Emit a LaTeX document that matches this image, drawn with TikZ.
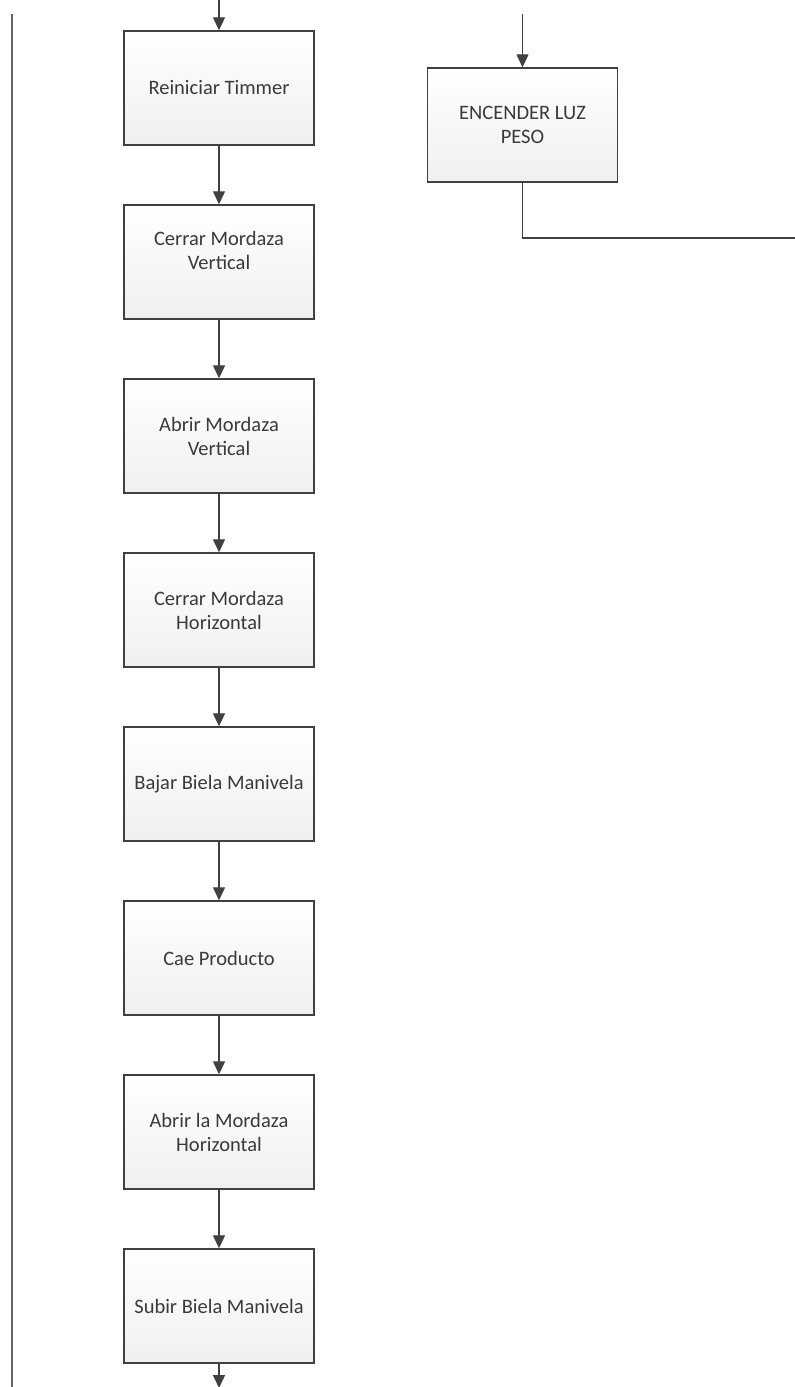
\documentclass[tikz,border=0pt]{standalone}
\usepackage{fontspec}
\setmainfont{Carlito}
\usetikzlibrary{arrows.meta}
\definecolor{edgec}{HTML}{404040}
\definecolor{txtc}{HTML}{3A3A3A}
\definecolor{lanec}{HTML}{666666}
\begin{document}
\begin{tikzpicture}[x=1pt,y=-1pt,
  txt/.style={text=txtc, align=center, font=\fontsize{20.5}{24}\selectfont},
  proc/.style={txt, draw=edgec, line width=1.4pt, top color=white, bottom color=black!6,
    minimum width=190pt, minimum height=114pt, inner sep=0pt},
  flow/.style={draw=edgec, line width=1.3pt, -{Triangle[length=13pt,width=12pt]}},
  plain/.style={draw=edgec, line width=1.3pt},
  lane/.style={draw=lanec, line width=2pt}]
\useasboundingbox[fill=white] (0,0) rectangle (795,1387);

\coordinate (lt) at (12,14);
\coordinate (lb) at (12,1387);
\draw[lane] (lt) -- (lb);

\node[proc] (b1) at (219,88) {Reiniciar Timmer};
\node[proc, label={[txt, yshift=12pt]center:Cerrar Mordaza\\Vertical}] (b2) at (219,262) {};
\node[proc] (b3) at (219,436) {Abrir Mordaza\\Vertical};
\node[proc] (b4) at (219,610) {Cerrar Mordaza\\Horizontal};
\node[proc] (b5) at (219,784) {Bajar Biela Manivela};
\node[proc] (b6) at (219,958) {Cae Producto};
\node[proc] (b7) at (219,1132) {Abrir la Mordaza\\Horizontal};
\node[proc] (b8) at (219,1306) {Subir Biela Manivela};
\node[proc] (luz) at (522.5,125) {ENCENDER LUZ\\PESO};

\coordinate (in) at (219,0);
\coordinate (out) at (219,1387);
\coordinate (luzin) at (522.5,14);
\coordinate (luzturn) at (522.5,238);
\coordinate (luzout) at (795,238);

\draw[flow] (in) -- (b1);
\draw[flow] (b1) -- (b2);
\draw[flow] (b2) -- (b3);
\draw[flow] (b3) -- (b4);
\draw[flow] (b4) -- (b5);
\draw[flow] (b5) -- (b6);
\draw[flow] (b6) -- (b7);
\draw[flow] (b7) -- (b8);
\draw[flow, shorten >=-1pt] (b8) -- (out);
\draw[flow] (luzin) -- (luz);
\draw[plain] (luz) -- (luzturn) -- (luzout);
\end{tikzpicture}
\end{document}
